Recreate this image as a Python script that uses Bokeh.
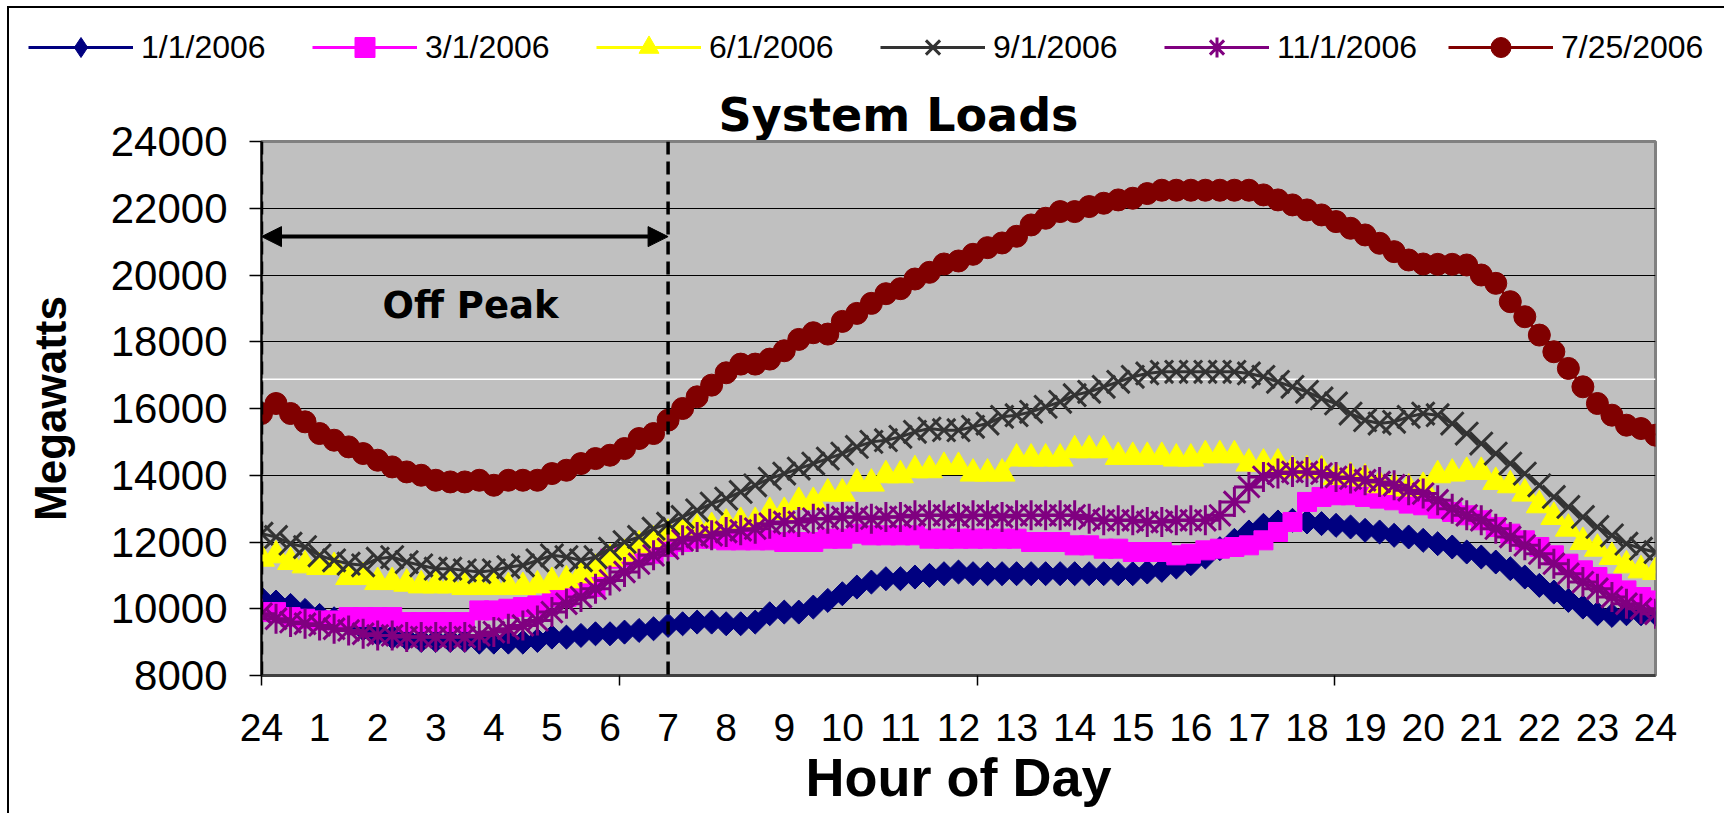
from bokeh.plotting import figure
from bokeh.layouts import column
from bokeh.models import (Range1d, FixedTicker, Label, Span, Arrow, NormalHead,
                          Legend, LegendItem)
from bokeh.embed import file_html
from bokeh.resources import INLINE

# ---------------- data ----------------
hours = [i * 0.25 for i in range(97)]          # 15-minute steps, 0 .. 24 h
tick_hours = list(range(25))
tick_labels = ["24", "1", "2", "3", "4", "5", "6", "7", "8", "9", "10", "11", "12",
               "13", "14", "15", "16", "17", "18", "19", "20", "21", "22", "23", "24"]
y_ticks = [8000, 10000, 12000, 14000, 16000, 18000, 20000, 22000, 24000]
off_peak_hours = [0, 7]

load_0101 = [10300, 10200, 10100, 9950, 9800, 9700, 9550, 9400, 9250, 9150, 9100, 9050,
             9050, 9050, 9050, 9000, 9000, 9000, 9000, 9050, 9150, 9150, 9200, 9250,
             9250, 9300, 9350, 9400, 9500, 9550, 9600, 9600, 9550, 9550, 9600, 9850,
             9900, 9900, 10050, 10250, 10450, 10650, 10800, 10900, 10900, 10950, 11000, 11050,
             11100, 11050, 11050, 11050, 11050, 11050, 11050, 11050, 11050, 11050, 11050, 11050,
             11050, 11100, 11150, 11250, 11350, 11550, 11800, 12050, 12300, 12500, 12600, 12650,
             12600, 12550, 12500, 12450, 12350, 12300, 12200, 12150, 12050, 11950, 11850, 11700,
             11550, 11400, 11200, 10950, 10700, 10500, 10250, 10050, 9850, 9800, 9850, 9850,
             9850]
load_0301 = [9900, 9900, 9750, 9700, 9650, 9650, 9750, 9750, 9750, 9750, 9600, 9600,
             9600, 9600, 9600, 9950, 9950, 10000, 10050, 10100, 10350, 10350, 10600, 10650,
             11500, 11550, 11600, 11650, 11850, 12000, 12100, 12100, 12050, 12050, 12050, 12050,
             12000, 12000, 12000, 12100, 12100, 12250, 12200, 12200, 12200, 12200, 12100, 12100,
             12100, 12100, 12100, 12100, 12100, 12000, 12000, 12000, 11900, 11900, 11800, 11800,
             11700, 11700, 11700, 11600, 11650, 11750, 11800, 11850, 11900, 12050, 12300, 12600,
             13200, 13350, 13400, 13400, 13350, 13300, 13250, 13150, 13100, 13000, 12900, 12800,
             12650, 12450, 12250, 12050, 11850, 11600, 11350, 11150, 10950, 10750, 10550, 10350,
             10250]
load_0601 = [11500, 11600, 11400, 11300, 11250, 11250, 10950, 10950, 10800, 10800, 10750, 10700,
             10700, 10700, 10650, 10650, 10650, 10650, 10650, 10700, 10800, 10850, 11000, 11200,
             11500, 11650, 11900, 12050, 12250, 12350, 12400, 12450, 12550, 12600, 12600, 12900,
             12900, 13200, 13200, 13450, 13450, 13750, 13750, 14000, 14000, 14150, 14150, 14250,
             14250, 14050, 14050, 14050, 14500, 14500, 14500, 14500, 14750, 14750, 14750, 14550,
             14550, 14550, 14550, 14500, 14500, 14600, 14600, 14600, 14350, 14350, 14350, 14150,
             14150, 14150, 13950, 13950, 13900, 13700, 13650, 13600, 13650, 14000, 14050, 14100,
             14100, 13800, 13700, 13450, 13100, 12750, 12400, 12000, 11800, 11550, 11300, 11150,
             11100]
load_0901 = [12250, 12150, 11950, 11850, 11600, 11450, 11350, 11300, 11500, 11550, 11400, 11300,
             11200, 11200, 11150, 11100, 11150, 11250, 11300, 11450, 11600, 11550, 11450, 11550,
             11800, 12000, 12150, 12400, 12550, 12750, 12950, 13150, 13300, 13500, 13700, 13900,
             14050, 14200, 14350, 14500, 14650, 14850, 15000, 15050, 15150, 15300, 15400, 15350,
             15350, 15450, 15550, 15750, 15800, 15900, 16050, 16200, 16400, 16500, 16650, 16800,
             16950, 17050, 17100, 17100, 17100, 17100, 17100, 17100, 17050, 16950, 16800, 16650,
             16500, 16300, 16150, 15850, 15650, 15550, 15600, 15750, 15850, 15800, 15550, 15250,
             14950, 14650, 14350, 14050, 13700, 13350, 13050, 12750, 12450, 12200, 11950, 11800,
             11700]
load_1101 = [9850, 9700, 9600, 9550, 9500, 9400, 9350, 9250, 9200, 9200, 9150, 9150,
             9150, 9150, 9150, 9200, 9300, 9400, 9500, 9650, 9900, 10150, 10350, 10600,
             10850, 11100, 11350, 11600, 11800, 12050, 12150, 12200, 12300, 12350, 12400, 12550,
             12600, 12600, 12700, 12700, 12750, 12750, 12700, 12750, 12750, 12800, 12800, 12800,
             12750, 12800, 12800, 12750, 12800, 12800, 12800, 12800, 12800, 12700, 12650, 12650,
             12650, 12600, 12600, 12650, 12650, 12650, 12800, 13200, 13650, 13950, 14050, 14100,
             14100, 14050, 13950, 13900, 13850, 13800, 13700, 13550, 13450, 13250, 13000, 12800,
             12650, 12400, 12150, 11900, 11650, 11350, 11050, 10800, 10600, 10350, 10150, 10000,
             9850]
load_0725 = [15850, 16150, 15850, 15600, 15250, 15050, 14850, 14650, 14450, 14250, 14100, 14000,
             13850, 13800, 13800, 13850, 13700, 13850, 13850, 13850, 14050, 14150, 14350, 14500,
             14600, 14800, 15100, 15250, 15650, 16000, 16350, 16700, 17070, 17330, 17330, 17480,
             17730, 18070, 18270, 18230, 18610, 18850, 19150, 19440, 19590, 19880, 20080, 20330,
             20420, 20620, 20820, 20960, 21160, 21500, 21700, 21900, 21900, 22050, 22150, 22250,
             22300, 22440, 22540, 22540, 22540, 22540, 22540, 22540, 22540, 22400, 22250, 22100,
             21950, 21800, 21600, 21400, 21200, 20950, 20700, 20450, 20330, 20320, 20320, 20300,
             20000, 19750, 19200, 18750, 18200, 17700, 17200, 16650, 16150, 15800, 15500, 15400,
             15200]

# name, values, colour, chart marker, size, angle, legend marker
series = [
    ("1/1/2006", load_0101, "#000080", "square", 17, 0.785398, "diamond"),
    ("3/1/2006", load_0301, "#FF00FF", "square", 19, 0.0, "square"),
    ("6/1/2006", load_0601, "#FFFF00", "triangle", 26, 0.0, "triangle"),
    ("9/1/2006", load_0901, "#333333", "x", 32, 0.0, "x"),
    ("11/1/2006", load_1101, "#800080", "asterisk", 30, 0.0, "asterisk"),
    ("7/25/2006", load_0725, "#800000", "circle", 22, 0.0, "circle"),
]


def add_series(fig, vals, color, marker, size, ang):
    lr = fig.line(hours, vals, line_color=color, line_width=3)
    if marker in ("x", "asterisk"):
        sr = fig.scatter(hours, vals, marker=marker, size=size, line_color=color,
                         line_width=3)
    else:
        sr = fig.scatter(hours, vals, marker=marker, size=size, angle=ang,
                         fill_color=color, line_color=color, line_width=1)
    return lr, sr


W = 1715
TOP_H = 133
MAIN_H = 696
OVERLAP = 24

# ---------------- header figure: legend + title ----------------
head = figure(width=W, height=TOP_H, output_backend="svg", toolbar_location=None,
              title=None, x_axis_location=None, y_axis_location=None,
              x_range=Range1d(0, W), y_range=Range1d(0, TOP_H),
              min_border_left=0, min_border_right=0, min_border_top=0,
              min_border_bottom=0)
head.frame_align = False
head.grid.grid_line_color = None
head.outline_line_color = None
head.background_fill_color = "white"
head.border_fill_color = "white"

items = []
for name, vals, color, marker, size, ang, lmarker in series:
    lr, sr = add_series(head, vals, color, lmarker, size, 0.0)
    items.append(LegendItem(label=name, renderers=[lr, sr]))

legend = Legend(items=items, orientation="horizontal", location=(19, 69),
                glyph_width=105, glyph_height=50, label_standoff=8, label_width=160,
                spacing=11, padding=0, margin=0, border_line_color=None,
                background_fill_alpha=0, label_text_font="Liberation Sans",
                label_text_font_size="32px", label_text_color="black")
head.add_layout(legend, "center")

head.add_layout(Label(x=889, y=27, text="System Loads", text_align="center",
                      text_baseline="alphabetic", text_font="DejaVu Sans",
                      text_font_style="bold", text_font_size="46px",
                      text_color="black"))

# ---------------- main chart ----------------
p = figure(width=W, height=MAIN_H, output_backend="svg", toolbar_location=None,
           title=None, x_range=Range1d(0, 24), y_range=Range1d(8000, 24000),
           min_border_left=252, min_border_right=69, min_border_top=OVERLAP,
           min_border_bottom=138)
p.frame_align = False
p.styles = {"margin-top": "-%dpx" % OVERLAP}
p.background_fill_color = "#C0C0C0"
p.border_fill_alpha = 0
p.outline_line_color = "#808080"
p.outline_line_width = 3

p.xgrid.grid_line_color = None
p.ygrid.grid_line_color = "black"
p.ygrid.grid_line_width = 1

# x axis
xa = p.xaxis[0]
xa.ticker = FixedTicker(ticks=tick_hours, minor_ticks=[0, 6.16, 12.32, 18.48])
xa.major_label_overrides = {h: lab for h, lab in zip(tick_hours, tick_labels)}
xa.major_tick_out = 0
xa.major_tick_in = 0
xa.minor_tick_out = 10
xa.minor_tick_in = 0
xa.minor_tick_line_color = "black"
xa.minor_tick_line_width = 1.5
xa.axis_line_color = "#404040"
xa.axis_line_width = 3
xa.major_label_standoff = 28
xa.major_label_text_font = "Liberation Sans"
xa.major_label_text_font_size = "39px"
xa.major_label_text_color = "black"
xa.axis_label = "Hour of Day"
xa.axis_label_text_font = "Liberation Sans"
xa.axis_label_text_font_style = "bold"
xa.axis_label_text_font_size = "54px"
xa.axis_label_text_color = "black"
xa.axis_label_standoff = 3

# y axis
ya = p.yaxis[0]
ya.ticker = FixedTicker(ticks=y_ticks)
ya.major_tick_out = 12
ya.major_tick_in = 0
ya.major_tick_line_color = "black"
ya.major_tick_line_width = 1.5
ya.minor_tick_line_color = None
ya.axis_line_color = "black"
ya.axis_line_width = 2
ya.major_label_standoff = 22
ya.major_label_text_font = "Liberation Sans"
ya.major_label_text_font_size = "42px"
ya.major_label_text_color = "black"
ya.axis_label = "Megawatts"
ya.axis_label_text_font = "Liberation Sans"
ya.axis_label_text_font_style = "bold"
ya.axis_label_text_font_size = "44px"
ya.axis_label_text_color = "black"
ya.axis_label_standoff = 33

# white reference line in plot area
p.add_layout(Span(location=16880, dimension="width", line_color="white",
                  line_width=1.5, level="underlay"))

for name, vals, color, marker, size, ang, lmarker in series:
    add_series(p, vals, color, marker, size, ang)

# off-peak markers
for h in off_peak_hours:
    p.add_layout(Span(location=h, dimension="height", line_color="black",
                      line_width=3.5, line_dash="13 7"))
p.add_layout(Arrow(start=NormalHead(size=20, fill_color="black", line_color="black"),
                   end=NormalHead(size=20, fill_color="black", line_color="black"),
                   x_start=off_peak_hours[0], y_start=21150,
                   x_end=off_peak_hours[1], y_end=21150,
                   line_width=4, line_color="black"))
p.add_layout(Label(x=3.6, y=19100, text="Off Peak", text_align="center",
                   text_baseline="alphabetic", text_font="DejaVu Sans",
                   text_font_style="bold", text_font_size="37px", text_color="black"))

layout = column(head, p, spacing=0)
layout.styles = {"margin-left": "7px", "margin-top": "6px",
                 "border-top": "2px solid black", "border-left": "2px solid black"}

open("out.html", "w").write(file_html(layout, INLINE))
